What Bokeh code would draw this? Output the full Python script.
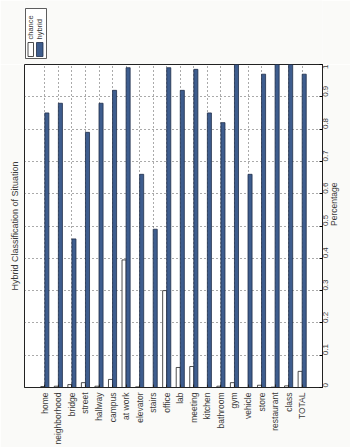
import math
from bokeh.plotting import figure
from bokeh.layouts import column
from bokeh.models import (FactorRange, Range1d, FixedTicker, ColumnDataSource, Title,
                          LinearAxis)
from bokeh.core.properties import value
from bokeh.transform import dodge
from bokeh.embed import file_html
from bokeh.resources import INLINE

# ---- data ----
categories = ["home", "neighborhood", "bridge", "street", "hallway", "campus",
              "at work", "elevator", "stairs", "office", "lab", "meeting",
              "kitchen", "bathroom", "gym", "vehicle", "store", "restaurant",
              "class", "TOTAL"]
chance = [0.003, 0.004, 0.009, 0.015, 0.004, 0.025, 0.395, 0.002, 0.0, 0.30,
          0.062, 0.065, 0.0, 0.004, 0.015, 0.0, 0.007, 0.001, 0.005, 0.05]
hybrid = [0.85, 0.88, 0.46, 0.79, 0.88, 0.92, 0.99, 0.66, 0.49, 0.99,
          0.92, 0.985, 0.85, 0.82, 1.0, 0.66, 0.97, 1.0, 1.0, 0.97]
series_names = ["chance", "hybrid"]
y_ticks = [0, 0.1, 0.2, 0.3, 0.4, 0.5, 0.6, 0.7, 0.8, 0.9, 1]
y_tick_labels = ["0", "0.1", "0.2", "0.3", "0.4", "0.5", "0.6", "0.7", "0.8", "0.9", "1"]
title_text = "Hybrid Classification of Situation"
value_axis_title = "Percentage"

FONT = "Liberation Sans"
TXT = "#3a3a3a"
BLUE = "#3e5d8e"
BG = "#fafaf8"
BL, BR = 24, 28   # left / right borders shared by both strips

# ---------------- legend strip (top), pixel-like ranges ----------------
leg = figure(width=350, height=64, x_range=Range1d(BL, 350 - BR),
             y_range=Range1d(64, 0),
             x_axis_location=None, y_axis_location=None,
             output_backend="svg", toolbar_location=None,
             min_border_left=BL, min_border_right=BR,
             min_border_top=0, min_border_bottom=0)
leg.background_fill_color = BG
leg.border_fill_color = BG
leg.outline_line_color = None
leg.xgrid.visible = False
leg.ygrid.visible = False
leg.quad(left=[25], right=[46], top=[8], bottom=[58],
         fill_color="white", line_color="#333333", line_width=0.8)
leg_src = ColumnDataSource(dict(
    name=series_names,
    left=[27.5, 36.0], right=[33.0, 42.5],
    top=[42, 42], bottom=[56, 56],
    fill=["white", BLUE], line=["#222222", "#1f2f4a"],
    tx=[30.2, 39.2], ty=[39, 39]))
leg.quad(left="left", right="right", bottom="bottom", top="top",
         fill_color="fill", line_color="line", line_width=0.8, source=leg_src)
leg.text(x="tx", y="ty", text="name", angle=math.pi / 2, source=leg_src,
         text_align="left", text_baseline="middle",
         text_font=value(FONT), text_font_size="7.5px", text_color=TXT)

# ---------------- main chart ----------------
source = ColumnDataSource(dict(cat=categories, chance=chance, hybrid=hybrid))

p = figure(width=350, height=383,
           x_range=FactorRange(factors=categories, range_padding=1,
                               range_padding_units="absolute"),
           y_range=Range1d(0, 1),
           y_axis_location="right",
           title=title_text, title_location="left",
           output_backend="svg", toolbar_location=None,
           min_border_left=BL, min_border_right=BR,
           min_border_top=0, min_border_bottom=60)

p.background_fill_color = "white"
p.border_fill_color = BG
p.outline_line_color = "#222222"
p.outline_line_width = 1

p.title.text_font = FONT
p.title.text_font_size = "9px"
p.title.text_font_style = "normal"
p.title.text_color = TXT
p.title.align = "center"
p.title.standoff = 9

p.vbar(x=dodge("cat", -0.15, range=p.x_range), top="chance", width=0.3,
       source=source, fill_color="white", line_color="#222222", line_width=0.8)
p.vbar(x=dodge("cat", 0.15, range=p.x_range), top="hybrid", width=0.3,
       source=source, fill_color=BLUE, line_color="#1f2f4a", line_width=0.8)

# category axis
xa = p.xaxis[0]
xa.major_label_orientation = math.pi / 2
xa.major_label_text_font = FONT
xa.major_label_text_font_size = "8.5px"
xa.major_label_text_color = TXT
xa.major_label_standoff = 5
xa.major_tick_in = 3
xa.major_tick_out = 0
xa.axis_line_color = "#222222"
xa.major_tick_line_color = "#222222"

# value axis on the right (tick labels only)
ticker = FixedTicker(ticks=y_ticks)
ya = p.yaxis[0]
ya.ticker = ticker
ya.major_label_overrides = dict(zip(y_ticks, y_tick_labels))
ya.major_label_orientation = math.pi / 2
ya.major_label_text_font = FONT
ya.major_label_text_font_size = "8px"
ya.major_label_text_color = TXT
ya.major_label_standoff = 3
ya.major_tick_in = 3
ya.major_tick_out = 0
ya.minor_tick_line_color = None
ya.axis_line_color = "#222222"

# separate right-side axis carrying only the value-axis title
lab_axis = LinearAxis(ticker=FixedTicker(ticks=[]), axis_line_color=None,
                      major_tick_line_color=None, minor_tick_line_color=None,
                      major_label_text_font_size="0px", major_label_standoff=0)
if "axis_label_orientation" in lab_axis.properties():
    lab_axis.axis_label = value_axis_title
    lab_axis.axis_label_orientation = math.pi / 2
    lab_axis.axis_label_standoff = 0
    lab_axis.axis_label_text_font = FONT
    lab_axis.axis_label_text_font_size = "8.5px"
    lab_axis.axis_label_text_font_style = "normal"
    lab_axis.axis_label_text_color = TXT
    p.add_layout(lab_axis, "right")
else:
    p.add_layout(Title(text=value_axis_title, align="center", text_font=FONT,
                       text_font_size="8.5px", text_font_style="normal",
                       text_color=TXT, standoff=0), "right")

p.ygrid.ticker = ticker
for g in (p.xgrid[0], p.ygrid[0]):
    g.grid_line_color = "#555555"
    g.grid_line_dash = "1 3"
    g.grid_line_width = 1

layout = column(leg, p, spacing=0)
open("out.html", "w").write(file_html(layout, INLINE))
